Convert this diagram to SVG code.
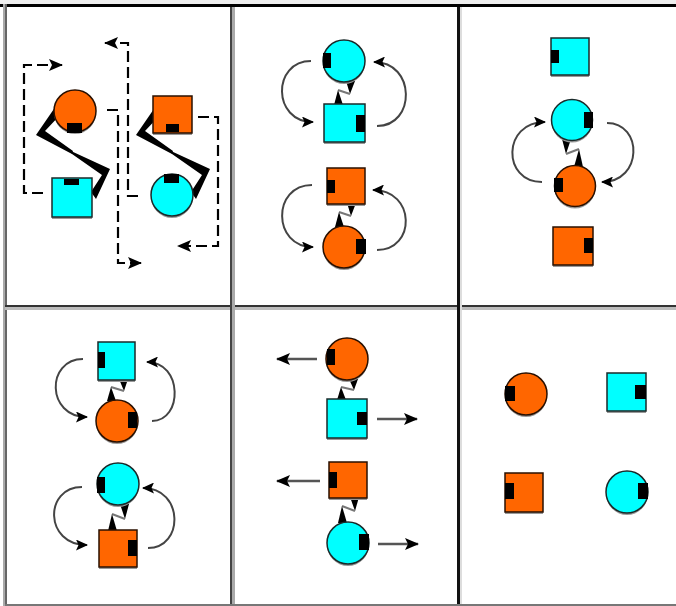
<svg xmlns="http://www.w3.org/2000/svg" width="676" height="606" viewBox="0 0 676 606">
<style>
.or{fill:#FF6600;stroke:#2a1000;stroke-width:1.5}
.cy{fill:#00FFFF;stroke:#1a2a2a;stroke-width:1.5}
.sh{fill:#999}
.nt{fill:#000}
.dash{fill:none;stroke:#000;stroke-width:2.2;stroke-dasharray:11 5}
.arc{fill:none;stroke:#444;stroke-width:2}
.st{fill:none;stroke:#555;stroke-width:2.5}
.zw{fill:#000}
.zl{stroke:#777;stroke-width:2;fill:none}
</style>
<defs>
<marker id="ah" viewBox="0 0 14 12" refX="13" refY="6" markerWidth="14" markerHeight="12" markerUnits="userSpaceOnUse" orient="auto">
<path d="M0,0 L14,6 L0,12 L3,6 z" fill="#000"/>
</marker>
<marker id="ab" viewBox="0 0 12 11" refX="11" refY="5.5" markerWidth="12" markerHeight="11" markerUnits="userSpaceOnUse" orient="auto">
<path d="M0,0 L12,5.5 L0,11 L2.5,5.5 z" fill="#000"/>
</marker>
<g id="zigzag">
<polygon class="zw" points="58,103 61,114 45,131 73,151 72,154 36,135"/>
<polygon class="zw" points="71,151 110,169 96,199 91,192 102,175 72,154"/>
</g>
</defs>
<rect x="0" y="0" width="676" height="606" fill="#fff"/>
<g id="grid">
<rect x="0" y="0" width="676" height="4" fill="#eee"/>
<rect x="0" y="4" width="676" height="3" fill="#000"/>
<rect x="3" y="4" width="2" height="602" fill="#aaa"/>
<rect x="5" y="4" width="2" height="602" fill="#666"/>
<rect x="5" y="305" width="671" height="2" fill="#333"/>
<rect x="5" y="307" width="671" height="3" fill="#bbb"/>
<rect x="230" y="7" width="2" height="599" fill="#444"/>
<rect x="232" y="7" width="3" height="599" fill="#aaa"/>
<rect x="457" y="7" width="3" height="599" fill="#111"/>
<rect x="460" y="7" width="2" height="599" fill="#ddd"/>
<rect x="5" y="604" width="671" height="2" fill="#777"/>
</g>
<g id="connectors">
<use href="#zigzag"/>
<use href="#zigzag" transform="translate(100,0)"/>
<path class="dash" d="M43,193 H24 V65 H62" marker-end="url(#ah)"/>
<path class="dash" d="M107,110 H118 V263 H141" marker-end="url(#ah)"/>
<path class="dash" d="M138,196 H128 V43 H105" marker-end="url(#ah)"/>
<path class="dash" d="M198,117 H218 V246 H178" marker-end="url(#ah)"/>
<path class="arc" d="M311,61 C272,61 272,122 313,122" marker-end="url(#ab)"/>
<path class="arc" d="M377,126 C416,126 416,62 374,62" marker-end="url(#ab)"/>
<path class="arc" d="M312,185 C272,185 272,247 313,247" marker-end="url(#ab)"/>
<path class="arc" d="M377,250 C416,250 416,190 373,190" marker-end="url(#ab)"/>
<path class="arc" d="M542,182 C502,182 502,122 545,122" marker-end="url(#ab)"/>
<path class="arc" d="M607,123 C643,123 643,182 602,182" marker-end="url(#ab)"/>
<path class="arc" d="M83,359 C46,359 46,417 87,417" marker-end="url(#ab)"/>
<path class="arc" d="M152,421 C183,421 183,362 147,362" marker-end="url(#ab)"/>
<path class="arc" d="M82,487 C44,487 44,545 87,545" marker-end="url(#ab)"/>
<path class="arc" d="M148,548 C184,548 184,488 143,488" marker-end="url(#ab)"/>
<path class="st" d="M317,359 H277" marker-end="url(#ah)"/>
<path class="st" d="M377,419 H417" marker-end="url(#ah)"/>
<path class="st" d="M320,481 H277" marker-end="url(#ah)"/>
<path class="st" d="M378,544 H418" marker-end="url(#ah)"/>
<polygon class="zw" points="346,81 355,81 350,94"/><path class="zl" d="M350,94 L338,90"/><polygon class="zw" points="338,90 334,105 343,105"/>
<polygon class="zw" points="347,203 356,203 351,216"/><path class="zl" d="M351,216 L339,212"/><polygon class="zw" points="339,212 335,227 344,227"/>
<polygon class="zw" points="119,379 128,379 124,391"/><path class="zl" d="M124,391 L111,387"/><polygon class="zw" points="111,387 107,401 116,401"/>
<polygon class="zw" points="120,504 129,504 125,519"/><path class="zl" d="M125,519 L112,514"/><polygon class="zw" points="112,514 108,531 117,531"/>
<polygon class="zw" points="349,379 358,379 354,390"/><path class="zl" d="M354,390 L341,387"/><polygon class="zw" points="341,387 337,400 346,400"/>
<polygon class="zw" points="350,497 359,497 355,511"/><path class="zl" d="M355,511 L342,506"/><polygon class="zw" points="342,506 338,523 347,523"/>
<polygon class="zw" points="571,139 562,139 566,154"/><path class="zl" d="M566,154 L579,149"/><polygon class="zw" points="579,149 583,167 574,167"/>
</g>
<g id="p1-orange-circle"><circle class="sh" cx="75" cy="113" r="21"/><circle class="or" cx="75" cy="111" r="21"/><rect class="nt" x="67" y="123" width="15" height="10"/></g>
<g id="p1-cyan-square"><rect class="sh" x="52" y="180" width="40" height="39"/><rect class="cy" x="52" y="178" width="40" height="39"/><rect class="nt" x="64" y="179" width="15" height="6"/></g>
<g id="p1-orange-square"><rect class="sh" x="153" y="98" width="39" height="37"/><rect class="or" x="153" y="96" width="39" height="37"/><rect class="nt" x="166" y="124" width="13" height="8"/></g>
<g id="p1-cyan-circle"><circle class="sh" cx="172" cy="197" r="21"/><circle class="cy" cx="172" cy="195" r="21"/><rect class="nt" x="164" y="174" width="15" height="9"/></g>
<g id="p2-cyan-circle"><circle class="sh" cx="344" cy="63" r="21"/><circle class="cy" cx="344" cy="61" r="21"/><rect class="nt" x="323" y="53" width="8" height="15"/></g>
<g id="p2-cyan-square"><rect class="sh" x="324" y="106" width="41" height="38"/><rect class="cy" x="324" y="104" width="41" height="38"/><rect class="nt" x="356" y="115" width="9" height="17"/></g>
<g id="p2-orange-square"><rect class="sh" x="327" y="170" width="38" height="36"/><rect class="or" x="327" y="168" width="38" height="36"/><rect class="nt" x="327" y="180" width="8" height="13"/></g>
<g id="p2-orange-circle"><circle class="sh" cx="344" cy="249" r="21"/><circle class="or" cx="344" cy="247" r="21"/><rect class="nt" x="356" y="239" width="10" height="15"/></g>
<g id="p3-cyan-square"><rect class="sh" x="551" y="40" width="38" height="37"/><rect class="cy" x="551" y="38" width="38" height="37"/><rect class="nt" x="551" y="50" width="8" height="13"/></g>
<g id="p3-cyan-circle"><circle class="sh" cx="572" cy="122" r="20.5"/><circle class="cy" cx="572" cy="120" r="20.5"/><rect class="nt" x="584" y="112" width="9" height="16"/></g>
<g id="p3-orange-circle"><circle class="sh" cx="575" cy="188" r="20.5"/><circle class="or" cx="575" cy="186" r="20.5"/><rect class="nt" x="554" y="178" width="9" height="14"/></g>
<g id="p3-orange-square"><rect class="sh" x="553" y="229" width="40" height="38"/><rect class="or" x="553" y="227" width="40" height="38"/><rect class="nt" x="584" y="238" width="9" height="15"/></g>
<g id="p4-cyan-square"><rect class="sh" x="98" y="344" width="37" height="38"/><rect class="cy" x="98" y="342" width="37" height="38"/><rect class="nt" x="98" y="352" width="7" height="16"/></g>
<g id="p4-orange-circle"><circle class="sh" cx="117" cy="423" r="21"/><circle class="or" cx="117" cy="421" r="21"/><rect class="nt" x="128" y="412" width="9" height="16"/></g>
<g id="p4-cyan-circle"><circle class="sh" cx="118" cy="486" r="21"/><circle class="cy" cx="118" cy="484" r="21"/><rect class="nt" x="97" y="477" width="8" height="16"/></g>
<g id="p4-orange-square"><rect class="sh" x="99" y="532" width="38" height="37"/><rect class="or" x="99" y="530" width="38" height="37"/><rect class="nt" x="128" y="540" width="9" height="16"/></g>
<g id="p5-orange-circle"><circle class="sh" cx="347" cy="361" r="21"/><circle class="or" cx="347" cy="359" r="21"/><rect class="nt" x="327" y="349" width="8" height="16"/></g>
<g id="p5-cyan-square"><rect class="sh" x="327" y="401" width="40" height="39"/><rect class="cy" x="327" y="399" width="40" height="39"/><rect class="nt" x="357" y="412" width="10" height="13"/></g>
<g id="p5-orange-square"><rect class="sh" x="329" y="464" width="38" height="36"/><rect class="or" x="329" y="462" width="38" height="36"/><rect class="nt" x="329" y="472" width="8" height="16"/></g>
<g id="p5-cyan-circle"><circle class="sh" cx="348" cy="545" r="21"/><circle class="cy" cx="348" cy="543" r="21"/><rect class="nt" x="359" y="534" width="10" height="16"/></g>
<g id="p6-orange-circle"><circle class="sh" cx="526" cy="396" r="21"/><circle class="or" cx="526" cy="394" r="21"/><rect class="nt" x="505" y="386" width="10" height="15"/></g>
<g id="p6-cyan-square"><rect class="sh" x="607" y="375" width="39" height="38"/><rect class="cy" x="607" y="373" width="39" height="38"/><rect class="nt" x="635" y="385" width="11" height="14"/></g>
<g id="p6-orange-square"><rect class="sh" x="505" y="475" width="38" height="39"/><rect class="or" x="505" y="473" width="38" height="39"/><rect class="nt" x="505" y="483" width="9" height="16"/></g>
<g id="p6-cyan-circle"><circle class="sh" cx="627" cy="494" r="21"/><circle class="cy" cx="627" cy="492" r="21"/><rect class="nt" x="638" y="483" width="10" height="16"/></g>
</svg>
